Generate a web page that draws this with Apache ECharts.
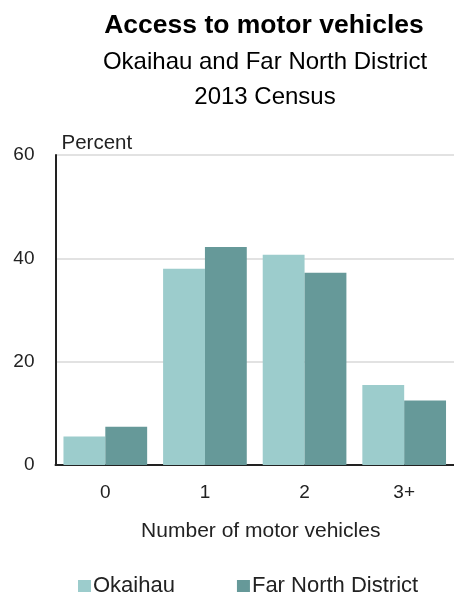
<!DOCTYPE html>
<html>
<head>
<meta charset="utf-8">
<script src="https://cdn.jsdelivr.net/npm/echarts@6/dist/echarts.min.js"></script>
<style>html,body{margin:0;padding:0;background:#fff}#c{width:454px;height:594px}</style>
</head>
<body>
<div id="c"></div>
<script>
var categories = ['0', '1', '2', '3+'];
var okaihau = [5.5, 38.0, 40.7, 15.5];
var farNorth = [7.4, 42.2, 37.2, 12.5];
var yTicks = [0, 20, 40, 60];

var FONT = 'Liberation Sans, Arial, sans-serif';
var chart = echarts.init(document.getElementById('c'));
chart.setOption({
  animation: false,
  textStyle: { fontFamily: FONT },
  title: [
    { text: 'Access to motor vehicles', left: 264, top: 12, textAlign: 'center', padding: 0,
      textStyle: { fontFamily: FONT, fontSize: 26.5, fontWeight: 'bold', color: '#000' } },
    { text: 'Okaihau and Far North District', left: 265, top: 50, textAlign: 'center', padding: 0,
      textStyle: { fontFamily: FONT, fontSize: 24, fontWeight: 'normal', color: '#000' } },
    { text: '2013 Census', left: 265, top: 85, textAlign: 'center', padding: 0,
      textStyle: { fontFamily: FONT, fontSize: 24, fontWeight: 'normal', color: '#000' } }
  ],
  legend: {
    left: 78, top: 575, itemWidth: 13, itemHeight: 12, itemGap: 62, padding: 0,
    icon: 'rect',
    textStyle: { fontFamily: FONT, fontSize: 22, color: '#222', padding: [0, 0, 0, -3] },
    data: ['Okaihau', 'Far North District']
  },
  grid: { left: 55.5, top: 155, width: 400, height: 310, containLabel: false },
  xAxis: {
    type: 'category', data: categories,
    axisLine: { show: true, lineStyle: { color: '#222', width: 2 } },
    axisTick: { show: false },
    axisLabel: { margin: 18, fontSize: 19, color: '#222', fontFamily: FONT },
    name: 'Number of motor vehicles', nameLocation: 'middle', nameGap: 56,
    nameTextStyle: { fontSize: 21, color: '#222', fontFamily: FONT, padding: [0, 0, 0, 12] }
  },
  yAxis: {
    type: 'value', min: 0, max: 60, interval: 20,
    axisLine: { show: true, lineStyle: { color: '#222', width: 2 } },
    axisTick: { show: false },
    axisLabel: { margin: 21, fontSize: 19, color: '#222', fontFamily: FONT, padding: [2, 0, 0, 0],
      formatter: function (v) { return yTicks.indexOf(v) >= 0 ? String(v) : ''; } },
    splitLine: { show: true, lineStyle: { color: '#d9d9d9', width: 1.5 } },
    name: 'Percent', nameLocation: 'end', nameGap: 12,
    nameTextStyle: { fontSize: 20.5, color: '#222', fontFamily: FONT, align: 'left', verticalAlign: 'middle', padding: [0, 0, 0, 6] }
  },
  series: [
    { name: 'Okaihau', type: 'bar', data: okaihau, barGap: '0%', barCategoryGap: '16%',
      itemStyle: { color: '#9ccccc' } },
    { name: 'Far North District', type: 'bar', data: farNorth, barGap: '0%', barCategoryGap: '16%',
      itemStyle: { color: '#669999' } }
  ]
});
</script>
</body>
</html>
